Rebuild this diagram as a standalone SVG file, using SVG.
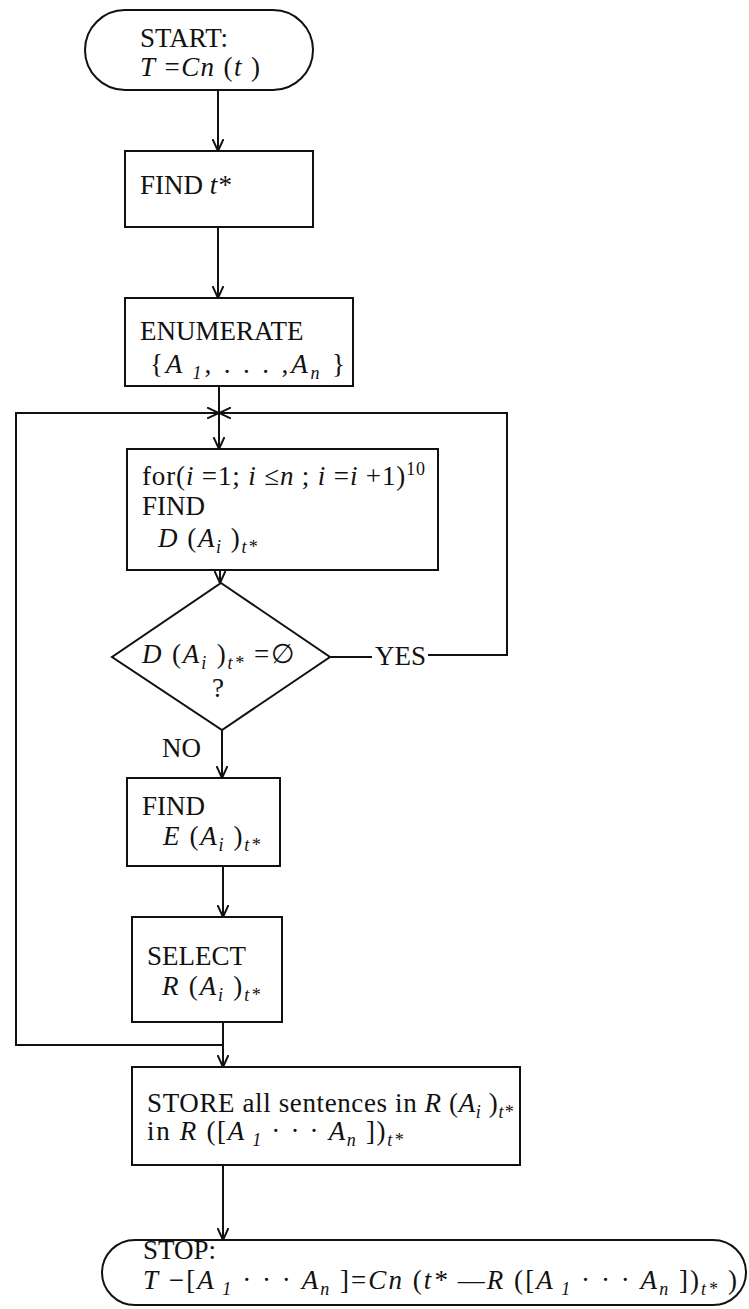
<svg xmlns="http://www.w3.org/2000/svg" width="749" height="1309" viewBox="0 0 749 1309">
<style>
.shape{fill:none;stroke:#111;stroke-width:2}
.conn{fill:none;stroke:#111;stroke-width:2}
text{font-family:"Liberation Serif","Times New Roman",serif;font-size:27px;fill:#111}
.it{font-style:italic}
.sub{font-size:18px;font-style:italic}
.sup{font-size:18px}
</style>
<defs>
<marker id="arr" viewBox="0 0 12 12" refX="12" refY="6" markerWidth="12" markerHeight="12" markerUnits="userSpaceOnUse" orient="auto">
<path d="M0,0.5 L12,6 L0,11.5" fill="none" stroke="#111" stroke-width="2"/>
</marker>
</defs>
<rect width="749" height="1309" fill="#fff"/>

<g id="connectors">
<line class="conn" x1="218" y1="90" x2="218" y2="151" marker-end="url(#arr)"/>
<line class="conn" x1="218" y1="227" x2="218" y2="298" marker-end="url(#arr)"/>
<line class="conn" x1="219" y1="386" x2="219" y2="449" marker-end="url(#arr)"/>
<polyline class="conn" points="223,1045 16,1045 16,413 219,413" marker-end="url(#arr)"/>
<line class="conn" x1="330" y1="657" x2="372" y2="657"/>
<polyline class="conn" points="428,655 507,655 507,413 219,413" marker-end="url(#arr)"/>
<line class="conn" x1="220" y1="570" x2="220" y2="583" marker-end="url(#arr)"/>
<line class="conn" x1="222" y1="730" x2="222" y2="778" marker-end="url(#arr)"/>
<line class="conn" x1="223" y1="866" x2="223" y2="917" marker-end="url(#arr)"/>
<line class="conn" x1="223" y1="1022" x2="223" y2="1067" marker-end="url(#arr)"/>
<line class="conn" x1="223" y1="1165" x2="223" y2="1240" marker-end="url(#arr)"/>
<text x="375" y="665">YES</text>
<text x="162" y="757">NO</text>
</g>

<g id="start">
<rect class="shape" x="85" y="10" width="228" height="80" rx="40" ry="40"/>
<text x="140" y="47">START:</text>
<text x="140" y="76" textLength="120"><tspan class="it">T</tspan> =<tspan class="it">Cn</tspan> (<tspan class="it">t</tspan> )</text>
</g>

<g id="find-tstar">
<rect class="shape" x="125" y="151" width="188" height="76"/>
<text x="140" y="194">FIND <tspan class="it">t*</tspan></text>
</g>

<g id="enumerate">
<rect class="shape" x="125" y="298" width="228" height="88"/>
<text x="140" y="340">ENUMERATE</text>
<text x="150" y="373" textLength="195">{<tspan class="it">A</tspan><tspan class="sub" dy="6"> 1</tspan><tspan dy="-6">, . . . ,</tspan><tspan class="it">A</tspan><tspan class="sub" dy="6">n</tspan><tspan dy="-6"> }</tspan></text>
</g>

<g id="for-find-d">
<rect class="shape" x="127" y="449" width="311" height="121"/>
<text x="142" y="485" textLength="283">for(<tspan class="it">i</tspan> =1; <tspan class="it">i</tspan> ≤<tspan class="it">n</tspan> ; <tspan class="it">i</tspan> =<tspan class="it">i</tspan> +1)<tspan class="sup" dy="-10">10</tspan></text>
<text x="142" y="515">FIND</text>
<text x="158" y="547" textLength="99"><tspan class="it">D</tspan> (<tspan class="it">A</tspan><tspan class="sub" dy="6">i</tspan><tspan dy="-6"> )</tspan><tspan class="sub" dy="6">t*</tspan></text>
</g>

<g id="decision">
<polygon class="shape" points="221,583 330,657 222,730 112,657"/>
<text x="142" y="663" textLength="153"><tspan class="it">D</tspan> (<tspan class="it">A</tspan><tspan class="sub" dy="6">i</tspan><tspan dy="-6"> )</tspan><tspan class="sub" dy="6">t*</tspan><tspan dy="-6"> =∅</tspan></text>
<text x="212" y="697">?</text>
</g>

<g id="find-e">
<rect class="shape" x="127" y="778" width="153" height="88"/>
<text x="142" y="815">FIND</text>
<text x="163" y="845" textLength="97"><tspan class="it">E</tspan> (<tspan class="it">A</tspan><tspan class="sub" dy="6">i</tspan><tspan dy="-6"> )</tspan><tspan class="sub" dy="6">t*</tspan></text>
</g>

<g id="select-r">
<rect class="shape" x="132" y="917" width="150" height="105"/>
<text x="147" y="965">SELECT</text>
<text x="162" y="995" textLength="98"><tspan class="it">R</tspan> (<tspan class="it">A</tspan><tspan class="sub" dy="6">i</tspan><tspan dy="-6"> )</tspan><tspan class="sub" dy="6">t*</tspan></text>
</g>

<g id="store">
<rect class="shape" x="132" y="1067" width="388" height="98"/>
<text x="147" y="1112" textLength="366">STORE all sentences in <tspan class="it">R</tspan> (<tspan class="it">A</tspan><tspan class="sub" dy="6">i</tspan><tspan dy="-6"> )</tspan><tspan class="sub" dy="6">t*</tspan></text>
<text x="147" y="1140" textLength="256">in <tspan class="it">R</tspan> ([<tspan class="it">A</tspan><tspan class="sub" dy="6"> 1</tspan><tspan dy="-6">  ·  ·  ·  </tspan><tspan class="it">A</tspan><tspan class="sub" dy="6">n</tspan><tspan dy="-6"> ])</tspan><tspan class="sub" dy="6">t*</tspan></text>
</g>

<g id="stop">
<rect class="shape" x="102" y="1240" width="644" height="65" rx="33" ry="33"/>
<text x="143" y="1259">STOP:</text>
<text x="143" y="1289" textLength="594"><tspan class="it">T</tspan> −[<tspan class="it">A</tspan><tspan class="sub" dy="6"> 1</tspan><tspan dy="-6">  ·  ·  ·  </tspan><tspan class="it">A</tspan><tspan class="sub" dy="6">n</tspan><tspan dy="-6"> ]=</tspan><tspan class="it">Cn</tspan> (<tspan class="it">t*</tspan> —<tspan class="it">R</tspan> ([<tspan class="it">A</tspan><tspan class="sub" dy="6"> 1</tspan><tspan dy="-6">  ·  ·  ·  </tspan><tspan class="it">A</tspan><tspan class="sub" dy="6">n</tspan><tspan dy="-6"> ])</tspan><tspan class="sub" dy="6">t*</tspan><tspan dy="-6"> )</tspan></text>
</g>
</svg>
